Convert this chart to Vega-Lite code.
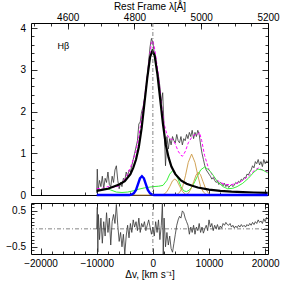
{
"$schema": "https://vega.github.io/schema/vega-lite/v6.json",
"background": "white",
"padding": {"left": 5, "top": 0, "right": 2, "bottom": 0},
"spacing": -1,
"config": {
  "view": {"stroke": "black", "strokeWidth": 1},
  "axis": {"labelFont": "Liberation Sans", "labelFontSize": 10, "titleFont": "Liberation Sans", "titleFontSize": 10, "titleFontWeight": "normal", "labelColor": "black", "titleColor": "black", "tickColor": "black", "domain": false, "grid": false, "tickWidth": 0.8, "labelOverlap": false, "labelFlush": false, "minExtent": 0}
},
"datasets": {
  "obs": [
    {"v":-10000,"f":0.05},{"v":-9900,"f":0.62},{"v":-9750,"f":0.1},{"v":-9500,"f":0.35},{"v":-9250,"f":0.2},{"v":-9000,"f":0.45},{"v":-8750,"f":0.15},{"v":-8500,"f":0.4},{"v":-8250,"f":0.3},{"v":-8000,"f":0.55},{"v":-7750,"f":0.25},{"v":-7500,"f":0.2},{"v":-7250,"f":0.45},{"v":-7000,"f":0.3},{"v":-6750,"f":0.6},{"v":-6500,"f":0.7},{"v":-6250,"f":0.35},{"v":-6000,"f":0.15},{"v":-5750,"f":0.3},{"v":-5500,"f":0.2},{"v":-5250,"f":0.4},{"v":-5000,"f":0.35},{"v":-4750,"f":0.55},{"v":-4500,"f":0.45},{"v":-4250,"f":0.6},{"v":-4000,"f":0.55},{"v":-3750,"f":0.7},{"v":-3500,"f":0.85},{"v":-3250,"f":1.0},{"v":-3000,"f":1.15},{"v":-2750,"f":1.3},{"v":-2500,"f":1.7},{"v":-2250,"f":1.75},{"v":-2000,"f":2.0},{"v":-1750,"f":2.1},{"v":-1500,"f":2.3},{"v":-1250,"f":2.5},{"v":-1000,"f":2.85},{"v":-750,"f":3.2},{"v":-500,"f":3.55},{"v":-250,"f":3.75},{"v":0,"f":3.65},{"v":250,"f":3.4},{"v":500,"f":3.3},{"v":750,"f":3.0},{"v":1000,"f":2.85},{"v":1250,"f":2.6},{"v":1500,"f":2.2},{"v":1750,"f":2.45},{"v":2000,"f":1.6},{"v":2250,"f":0.7},{"v":2500,"f":1.4},{"v":2750,"f":1.1},{"v":3000,"f":1.35},{"v":3250,"f":1.2},{"v":3500,"f":1.4},{"v":3750,"f":1.3},{"v":4000,"f":1.25},{"v":4250,"f":1.45},{"v":4500,"f":1.3},{"v":4750,"f":1.25},{"v":5000,"f":1.4},{"v":5250,"f":1.2},{"v":5500,"f":1.35},{"v":5750,"f":1.3},{"v":6000,"f":1.45},{"v":6250,"f":1.35},{"v":6500,"f":1.5},{"v":6750,"f":1.4},{"v":7000,"f":1.55},{"v":7250,"f":1.35},{"v":7500,"f":1.5},{"v":7750,"f":1.4},{"v":8000,"f":1.55},{"v":8250,"f":1.45},{"v":8500,"f":1.2},{"v":8750,"f":1.0},{"v":9000,"f":0.85},{"v":9250,"f":0.7},{"v":9500,"f":0.6},{"v":9750,"f":0.55},{"v":10000,"f":0.5},{"v":10250,"f":0.45},{"v":10500,"f":0.38},{"v":10750,"f":0.42},{"v":11000,"f":0.35},{"v":11250,"f":0.3},{"v":11500,"f":0.33},{"v":11750,"f":0.25},{"v":12000,"f":0.3},{"v":12250,"f":0.27},{"v":12500,"f":0.22},{"v":12750,"f":0.28},{"v":13000,"f":0.2},{"v":13250,"f":0.25},{"v":13500,"f":0.18},{"v":13750,"f":0.22},{"v":14000,"f":0.25},{"v":14250,"f":0.2},{"v":14500,"f":0.24},{"v":14750,"f":0.3},{"v":15000,"f":0.27},{"v":15250,"f":0.33},{"v":15500,"f":0.3},{"v":15750,"f":0.38},{"v":16000,"f":0.35},{"v":16250,"f":0.42},{"v":16500,"f":0.4},{"v":16750,"f":0.5},{"v":17000,"f":0.48},{"v":17250,"f":0.55},{"v":17500,"f":0.6},{"v":17750,"f":0.7},{"v":18000,"f":0.65},{"v":18250,"f":0.8},{"v":18500,"f":0.75},{"v":18750,"f":0.85},{"v":19000,"f":0.72},{"v":19250,"f":0.8},{"v":19500,"f":0.68},{"v":19750,"f":0.85},{"v":20000,"f":0.75},{"v":20250,"f":0.82},{"v":20450,"f":0.78}
  ],
  "fit": [
    {"v":-10000,"f":0.15},{"v":-9000,"f":0.16},{"v":-8000,"f":0.2},{"v":-7000,"f":0.18},{"v":-6000,"f":0.22},{"v":-5000,"f":0.38},{"v":-4500,"f":0.5},{"v":-4000,"f":0.65},{"v":-3500,"f":0.85},{"v":-3000,"f":1.05},{"v":-2500,"f":1.4},{"v":-2000,"f":1.85},{"v":-1500,"f":2.3},{"v":-1000,"f":2.85},{"v":-500,"f":3.4},{"v":-250,"f":3.65},{"v":0,"f":3.7},{"v":250,"f":3.55},{"v":500,"f":3.35},{"v":1000,"f":2.85},{"v":1500,"f":2.2},{"v":2000,"f":1.7},{"v":2500,"f":1.45},{"v":3000,"f":1.35},{"v":3500,"f":1.33},{"v":4000,"f":1.22},{"v":4500,"f":1.05},{"v":5000,"f":0.95},{"v":5300,"f":0.93},{"v":5800,"f":1.05},{"v":6300,"f":1.25},{"v":7000,"f":1.4},{"v":7500,"f":1.45},{"v":8000,"f":1.45},{"v":8300,"f":1.5},{"v":8700,"f":1.3},{"v":9200,"f":0.95},{"v":10000,"f":0.6},{"v":11000,"f":0.4},{"v":12000,"f":0.3},{"v":13000,"f":0.25},{"v":14000,"f":0.25},{"v":15000,"f":0.28},{"v":16000,"f":0.35},{"v":17000,"f":0.45},{"v":18000,"f":0.58},{"v":18800,"f":0.65},{"v":19500,"f":0.6},{"v":20450,"f":0.55}
  ],
  "broad": [
    {"v":-10000,"f":0.1},{"v":-8000,"f":0.15},{"v":-6000,"f":0.25},{"v":-5000,"f":0.33},{"v":-4000,"f":0.5},{"v":-3500,"f":0.65},{"v":-3000,"f":0.85},{"v":-2500,"f":1.15},{"v":-2000,"f":1.6},{"v":-1500,"f":2.2},{"v":-1000,"f":2.8},{"v":-500,"f":3.3},{"v":-100,"f":3.45},{"v":300,"f":3.35},{"v":800,"f":2.9},{"v":1300,"f":2.3},{"v":1800,"f":1.7},{"v":2300,"f":1.2},{"v":2800,"f":0.9},{"v":3300,"f":0.68},{"v":4000,"f":0.5},{"v":5000,"f":0.35},{"v":6000,"f":0.27},{"v":7000,"f":0.22},{"v":8000,"f":0.18},{"v":10000,"f":0.13},{"v":12000,"f":0.1},{"v":14000,"f":0.08},{"v":16000,"f":0.07},{"v":18000,"f":0.06},{"v":20450,"f":0.05}
  ],
  "blue": [
    {"v":-10000,"f":0},{"v":-4200,"f":0},{"v":-3800,"f":0.01},{"v":-3400,"f":0.04},{"v":-3000,"f":0.12},{"v":-2600,"f":0.28},{"v":-2300,"f":0.4},{"v":-1950,"f":0.45},{"v":-1600,"f":0.4},{"v":-1300,"f":0.28},{"v":-900,"f":0.12},{"v":-500,"f":0.04},{"v":-100,"f":0.01},{"v":200,"f":0},{"v":20450,"f":0}
  ],
  "green": [
    {"v":-10000,"f":0.1},{"v":-9000,"f":0.14},{"v":-8300,"f":0.16},{"v":-7500,"f":0.12},{"v":-6500,"f":0.07},{"v":-5500,"f":0.06},{"v":-4500,"f":0.07},{"v":-3500,"f":0.1},{"v":-2500,"f":0.14},{"v":-1500,"f":0.17},{"v":0,"f":0.2},{"v":1000,"f":0.21},{"v":1800,"f":0.23},{"v":2500,"f":0.35},{"v":3000,"f":0.5},{"v":3500,"f":0.58},{"v":4000,"f":0.52},{"v":4500,"f":0.38},{"v":5000,"f":0.2},{"v":5500,"f":0.1},{"v":6000,"f":0.08},{"v":6500,"f":0.12},{"v":7000,"f":0.2},{"v":7500,"f":0.33},{"v":8000,"f":0.47},{"v":8500,"f":0.6},{"v":9200,"f":0.67},{"v":10000,"f":0.6},{"v":10600,"f":0.5},{"v":11500,"f":0.32},{"v":12500,"f":0.2},{"v":13300,"f":0.15},{"v":14200,"f":0.16},{"v":15000,"f":0.2},{"v":16000,"f":0.28},{"v":17000,"f":0.4},{"v":18000,"f":0.55},{"v":18700,"f":0.62},{"v":19500,"f":0.6},{"v":20450,"f":0.53}
  ],
  "oiii": [
    {"c":"a","v":-4000,"f":0},{"c":"a","v":1500,"f":0},{"c":"a","v":2000,"f":0.02},{"c":"a","v":2500,"f":0.08},{"c":"a","v":3000,"f":0.2},{"c":"a","v":3500,"f":0.34},{"c":"a","v":3900,"f":0.38},{"c":"a","v":4300,"f":0.34},{"c":"a","v":4800,"f":0.2},{"c":"a","v":5300,"f":0.08},{"c":"a","v":5800,"f":0.02},{"c":"a","v":6300,"f":0},{"c":"a","v":10500,"f":0},
    {"c":"b","v":4200,"f":0},{"c":"b","v":4800,"f":0.07},{"c":"b","v":5300,"f":0.2},{"c":"b","v":5800,"f":0.46},{"c":"b","v":6300,"f":0.78},{"c":"b","v":6900,"f":0.98},{"c":"b","v":7500,"f":0.78},{"c":"b","v":8000,"f":0.47},{"c":"b","v":8500,"f":0.2},{"c":"b","v":9000,"f":0.07},{"c":"b","v":9600,"f":0},
    {"c":"d","v":5800,"f":0},{"c":"d","v":6300,"f":0.04},{"c":"d","v":6800,"f":0.15},{"c":"d","v":7300,"f":0.33},{"c":"d","v":7700,"f":0.48},{"c":"d","v":8100,"f":0.55},{"c":"d","v":8500,"f":0.48},{"c":"d","v":8900,"f":0.33},{"c":"d","v":9400,"f":0.15},{"c":"d","v":9900,"f":0.04},{"c":"d","v":10400,"f":0}
  ],
  "res": [
    {"v":-10000,"r":0.0},{"v":-9900,"r":0.6},{"v":-9800,"r":-0.65},{"v":-9700,"r":0.4},{"v":-9500,"r":-0.3},{"v":-9250,"r":0.3},{"v":-9000,"r":-0.4},{"v":-8750,"r":0.2},{"v":-8500,"r":-0.2},{"v":-8250,"r":0.45},{"v":-8000,"r":-0.1},{"v":-7750,"r":0.3},{"v":-7500,"r":-0.45},{"v":-7250,"r":0.2},{"v":-7000,"r":0.4},{"v":-6750,"r":0.15},{"v":-6500,"r":0.68},{"v":-6250,"r":0.1},{"v":-6000,"r":-0.35},{"v":-5750,"r":-0.1},{"v":-5500,"r":-0.5},{"v":-5250,"r":-0.15},{"v":-5000,"r":-0.7},{"v":-4750,"r":-0.2},{"v":-4500,"r":0.1},{"v":-4250,"r":-0.25},{"v":-4000,"r":0.15},{"v":-3750,"r":-0.1},{"v":-3500,"r":0.25},{"v":-3250,"r":0.05},{"v":-3000,"r":0.2},{"v":-2750,"r":-0.05},{"v":-2500,"r":0.3},{"v":-2250,"r":-0.1},{"v":-2000,"r":0.15},{"v":-1750,"r":0.05},{"v":-1500,"r":0.2},{"v":-1250,"r":-0.05},{"v":-1000,"r":0.1},{"v":-750,"r":0.25},{"v":-500,"r":0.05},{"v":-250,"r":-0.15},{"v":0,"r":0.05},{"v":250,"r":-0.2},{"v":500,"r":0.2},{"v":750,"r":-0.1},{"v":1000,"r":0.25},{"v":1250,"r":-0.3},{"v":1500,"r":0.1},{"v":1700,"r":0.72},{"v":1850,"r":-0.7},{"v":2000,"r":0.3},{"v":2250,"r":-0.5},{"v":2500,"r":-0.1},{"v":2750,"r":-0.45},{"v":3000,"r":-0.2},{"v":3250,"r":-0.55},{"v":3500,"r":-0.65},{"v":3750,"r":-0.4},{"v":4000,"r":-0.15},{"v":4250,"r":0.1},{"v":4500,"r":0.25},{"v":4750,"r":0.35},{"v":5000,"r":0.3},{"v":5250,"r":0.5},{"v":5500,"r":0.45},{"v":5750,"r":0.3},{"v":6000,"r":0.2},{"v":6250,"r":0.1},{"v":6500,"r":-0.15},{"v":6750,"r":0.05},{"v":7000,"r":-0.1},{"v":7250,"r":0.1},{"v":7500,"r":-0.15},{"v":7750,"r":0.05},{"v":8000,"r":-0.05},{"v":8250,"r":0.15},{"v":8500,"r":-0.1},{"v":8750,"r":0.05},{"v":9000,"r":-0.12},{"v":9250,"r":0.0},{"v":9500,"r":0.1},{"v":9750,"r":-0.05},{"v":10000,"r":0.25},{"v":10250,"r":0.05},{"v":10500,"r":0.15},{"v":10750,"r":-0.05},{"v":11000,"r":0.1},{"v":11250,"r":0.0},{"v":11500,"r":0.12},{"v":11750,"r":-0.02},{"v":12000,"r":0.08},{"v":12250,"r":0.02},{"v":12500,"r":0.15},{"v":12750,"r":0.1},{"v":13000,"r":0.18},{"v":13250,"r":0.12},{"v":13500,"r":0.1},{"v":13750,"r":0.15},{"v":14000,"r":0.05},{"v":14250,"r":0.1},{"v":14500,"r":0.02},{"v":14750,"r":0.08},{"v":15000,"r":0.03},{"v":15250,"r":0.1},{"v":15500,"r":0.05},{"v":15750,"r":0.12},{"v":16000,"r":0.06},{"v":16250,"r":0.1},{"v":16500,"r":0.05},{"v":16750,"r":0.12},{"v":17000,"r":0.08},{"v":17250,"r":0.15},{"v":17500,"r":0.1},{"v":17750,"r":0.18},{"v":18000,"r":0.12},{"v":18250,"r":0.2},{"v":18500,"r":0.15},{"v":18750,"r":0.25},{"v":19000,"r":0.18},{"v":19250,"r":0.22},{"v":19500,"r":0.15},{"v":19750,"r":0.28},{"v":20000,"r":0.2},{"v":20250,"r":0.32},{"v":20450,"r":0.28}
  ]
},
"vconcat": [
  {
    "width": 237, "height": 172,
    "layer": [
      {
        "layer": [
          {"data": {"name": "obs"}, "mark": {"type": "line", "color": "#333333", "strokeWidth": 0.8},
           "encoding": {
             "x": {"field": "v", "type": "quantitative", "scale": {"domain": [-21700, 20500], "nice": false, "zero": false},
                   "axis": {"orient": "bottom", "labels": false, "title": null, "tickSize": -3, "values": [-20000,-18000,-16000,-14000,-12000,-10000,-8000,-6000,-4000,-2000,0,2000,4000,6000,8000,10000,12000,14000,16000,18000,20000]}},
             "y": {"field": "f", "type": "quantitative", "scale": {"domain": [0, 4.12], "nice": false, "zero": false},
                   "axis": {"orient": "left", "title": null, "values": [0,1,2,3,4], "tickSize": -6, "labelPadding": 11.5}}
           }},
          {"data": {"name": "fit"}, "mark": {"type": "line", "color": "#ff00ff", "strokeWidth": 1, "strokeDash": [3, 2]},
           "encoding": {"x": {"field": "v", "type": "quantitative"}, "y": {"field": "f", "type": "quantitative"}}},
          {"data": {"name": "green"}, "mark": {"type": "line", "color": "#22ee22", "strokeWidth": 0.9},
           "encoding": {"x": {"field": "v", "type": "quantitative"}, "y": {"field": "f", "type": "quantitative"}}},
          {"data": {"name": "oiii"}, "mark": {"type": "line", "color": "#cc9944", "strokeWidth": 0.9},
           "encoding": {"x": {"field": "v", "type": "quantitative"}, "y": {"field": "f", "type": "quantitative"}, "detail": {"field": "c"}}},
          {"data": {"name": "broad"}, "mark": {"type": "line", "color": "black", "strokeWidth": 2.2},
           "encoding": {"x": {"field": "v", "type": "quantitative"}, "y": {"field": "f", "type": "quantitative"}}},
          {"data": {"name": "blue"}, "mark": {"type": "line", "color": "#0000ff", "strokeWidth": 2.4},
           "encoding": {"x": {"field": "v", "type": "quantitative"}, "y": {"field": "f", "type": "quantitative"}}},
          {"data": {"values": [{"v": 0}]}, "mark": {"type": "rule", "color": "#666666", "strokeWidth": 0.8, "strokeDash": [4, 2, 1, 2]},
           "encoding": {"x": {"field": "v", "type": "quantitative"}}},
          {"data": {"values": [{"v": -17000, "f": 3.57, "t": "Hβ"}]}, "mark": {"type": "text", "align": "left", "baseline": "middle", "fontSize": 9, "font": "Liberation Sans", "color": "black"},
           "encoding": {"x": {"field": "v", "type": "quantitative"}, "y": {"field": "f", "type": "quantitative"}, "text": {"field": "t"}}}
        ]
      },
      {
        "data": {"values": [{"lam": 4800, "f": 2}]},
        "mark": {"type": "point", "opacity": 0, "size": 0},
        "encoding": {
          "x": {"field": "lam", "type": "quantitative", "scale": {"domain": [4490, 5200], "nice": false, "zero": false},
                "axis": {"orient": "top", "title": "Rest Frame λ[Å]", "titlePadding": 1, "format": "d", "labelPadding": 7, "tickSize": -6, "values": [4600,4800,5000,5200]}},
          "y": {"field": "f", "type": "quantitative",
                "axis": {"orient": "right", "title": null, "labels": false, "tickSize": -6, "values": [0,1,2,3,4]}}
        }
      },
      {
        "data": {"values": [{"lam": 4800, "f": 2}]},
        "mark": {"type": "point", "opacity": 0, "size": 0},
        "encoding": {
          "x": {"field": "lam", "type": "quantitative", "scale": {"domain": [4490, 5200], "nice": false, "zero": false},
                "axis": {"orient": "top", "title": null, "labels": false, "tickSize": -3, "values": [4500,4550,4600,4650,4700,4750,4800,4850,4900,4950,5000,5050,5100,5150,5200]}},
          "y": {"field": "f", "type": "quantitative",
                "axis": {"orient": "left", "title": null, "labels": false, "tickSize": -3, "values": [0.2,0.4,0.6,0.8,1.2,1.4,1.6,1.8,2.2,2.4,2.6,2.8,3.2,3.4,3.6,3.8]}}
        }
      },
      {
        "data": {"values": [{"v": 0, "f": 2}]},
        "mark": {"type": "point", "opacity": 0, "size": 0},
        "encoding": {
          "x": {"field": "v", "type": "quantitative", "scale": {"domain": [-21700, 20500], "nice": false, "zero": false},
                "axis": {"orient": "bottom", "title": null, "labels": false, "tickSize": -6, "values": [-20000,-10000,0,10000,20000]}},
          "y": {"field": "f", "type": "quantitative",
                "axis": {"orient": "right", "title": null, "labels": false, "tickSize": -3, "values": [0.2,0.4,0.6,0.8,1.2,1.4,1.6,1.8,2.2,2.4,2.6,2.8,3.2,3.4,3.6,3.8]}}
        }
      }
    ],
    "resolve": {"scale": {"x": "independent"}, "axis": {"x": "independent", "y": "independent"}}
  },
  {
    "width": 237, "height": 51,
    "layer": [
      {
        "layer": [
          {"data": {"values": [{"r": 0}]}, "mark": {"type": "rule", "color": "#666666", "strokeWidth": 0.8, "strokeDash": [4, 2, 1, 2]},
           "encoding": {"y": {"field": "r", "type": "quantitative", "scale": {"domain": [-0.7, 0.72], "nice": false, "zero": false},
                   "axis": {"orient": "left", "title": null, "values": [-0.5, 0, 0.5], "format": ".1~f", "tickSize": -6, "labelPadding": 11.5}}}},
          {"data": {"values": [{"v": 0}]}, "mark": {"type": "rule", "color": "#666666", "strokeWidth": 0.8, "strokeDash": [4, 2, 1, 2]},
           "encoding": {"x": {"field": "v", "type": "quantitative", "scale": {"domain": [-21700, 20500], "nice": false, "zero": false},
                   "axis": {"orient": "bottom", "title": "Δv, [km s⁻¹]", "titlePadding": 1, "format": "d", "labelPadding": 10, "tickSize": -6, "values": [-20000,-10000,0,10000,20000]}}}},
          {"data": {"name": "res"}, "mark": {"type": "line", "color": "#333333", "strokeWidth": 0.8},
           "encoding": {"x": {"field": "v", "type": "quantitative"}, "y": {"field": "r", "type": "quantitative"}}}
        ]
      },
      {
        "data": {"values": [{"v": 0, "r": 0}]},
        "mark": {"type": "point", "opacity": 0, "size": 0},
        "encoding": {
          "x": {"field": "v", "type": "quantitative", "axis": {"orient": "top", "title": null, "labels": false, "tickSize": -6, "values": [-20000,-10000,0,10000,20000]}},
          "y": {"field": "r", "type": "quantitative", "axis": {"orient": "right", "title": null, "labels": false, "tickSize": -6, "values": [-0.5, 0, 0.5]}}
        }
      },
      {
        "data": {"values": [{"v": 0, "r": 0}]},
        "mark": {"type": "point", "opacity": 0, "size": 0},
        "encoding": {
          "x": {"field": "v", "type": "quantitative", "axis": {"orient": "top", "title": null, "labels": false, "tickSize": -3, "values": [-20000,-18000,-16000,-14000,-12000,-10000,-8000,-6000,-4000,-2000,0,2000,4000,6000,8000,10000,12000,14000,16000,18000,20000]}},
          "y": {"field": "r", "type": "quantitative", "axis": {"orient": "left", "title": null, "labels": false, "tickSize": -3, "values": [-0.6,-0.4,-0.3,-0.2,-0.1,0.1,0.2,0.3,0.4,0.6,0.7]}}
        }
      },
      {
        "data": {"values": [{"v": 0, "r": 0}]},
        "mark": {"type": "point", "opacity": 0, "size": 0},
        "encoding": {
          "x": {"field": "v", "type": "quantitative", "axis": {"orient": "bottom", "title": null, "labels": false, "tickSize": -3, "values": [-18000,-16000,-14000,-12000,-8000,-6000,-4000,-2000,2000,4000,6000,8000,12000,14000,16000,18000]}},
          "y": {"field": "r", "type": "quantitative", "axis": {"orient": "right", "title": null, "labels": false, "tickSize": -3, "values": [-0.6,-0.4,-0.3,-0.2,-0.1,0.1,0.2,0.3,0.4,0.6,0.7]}}
        }
      }
    ],
    "resolve": {"axis": {"x": "independent", "y": "independent"}}
  }
]
}
